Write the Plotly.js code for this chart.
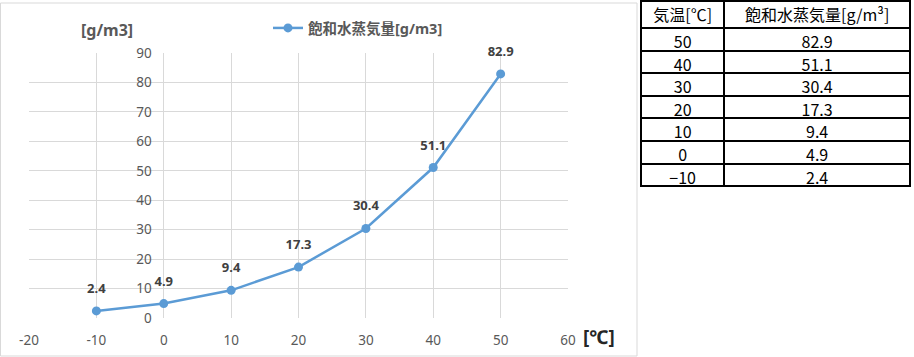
<!DOCTYPE html>
<html><head><meta charset="utf-8">
<script src="https://cdn.plot.ly/plotly-3.0.1.min.js"></script>
<style>html,body{margin:0;padding:0;background:#fff;}#chart{width:914px;height:357px;}</style>
</head><body><div id="chart"></div>
<script>
const temps = [-10, 0, 10, 20, 30, 40, 50];
const vapor = [2.4, 4.9, 9.4, 17.3, 30.4, 51.1, 82.9];
const vaporLabels = ['2.4', '4.9', '9.4', '17.3', '30.4', '51.1', '82.9'];
const seriesName = '飽和水蒸気量[g/m3]';
const tableHeader = ['気温[℃]', '飽和水蒸気量[g/m³]'];
const tableTemps = ['50', '40', '30', '20', '10', '0', '−10'];
const tableVapor = ['82.9', '51.1', '30.4', '17.3', '9.4', '4.9', '2.4'];
const xTicks = [-20, -10, 0, 10, 20, 30, 40, 50, 60];
const yTicks = [0, 10, 20, 30, 40, 50, 60, 70, 80, 90];

const W = 914, H = 357;
const mL = 29, mR = 3, mT = 0, mB = 39;
const pw = W - mL - mR, ph = H - mT - mB;
const px = x => (x - mL) / pw;
const py = y => 1 - (y - mT) / ph;

const baseFont = 'Noto Sans, Noto Sans CJK JP, sans-serif';
const jpFont = 'Noto Sans CJK JP, sans-serif';

const line = {
  type: 'scatter', mode: 'lines+markers',
  x: temps, y: vapor,
  name: seriesName,
  line: {color: '#5b9bd5', width: 2.5},
  marker: {color: '#5b9bd5', size: 9},
  cliponaxis: false,
  xaxis: 'x', yaxis: 'y'
};

const labels = {
  type: 'scatter', mode: 'markers+text',
  x: temps, y: vapor, text: vaporLabels,
  showlegend: false, hoverinfo: 'skip',
  textposition: 'top center',
  textfont: {family: baseFont, size: 13, color: '#404040', weight: 'bold'},
  marker: {color: 'rgba(0,0,0,0)', size: 22},
  cliponaxis: false,
  xaxis: 'x', yaxis: 'y'
};

const table = {
  type: 'table',
  domain: {x: [px(641), px(910)], y: [py(215), py(1)]},
  columnwidth: [83, 185],
  header: {
    values: tableHeader,
    align: 'center', height: 27,
    line: {color: '#000', width: 2},
    fill: {color: '#fff'},
    font: {family: jpFont, size: 16, color: '#000'}
  },
  cells: {
    values: [tableTemps, tableVapor],
    align: 'center', height: 22.6,
    line: {color: '#000', width: 2},
    fill: {color: '#fff'},
    font: {family: jpFont, size: 16, color: '#000'}
  }
};

const layout = {
  width: W, height: H,
  margin: {l: mL, r: mR, t: mT, b: mB, pad: 0},
  paper_bgcolor: '#fff', plot_bgcolor: 'rgba(0,0,0,0)',
  font: {family: baseFont, color: '#595959'},
  showlegend: true,
  legend: {
    orientation: 'h', x: px(268), xanchor: 'left', y: py(28), yanchor: 'middle',
    font: {family: baseFont, size: 14.5, color: '#595959', weight: 'bold'},
    bgcolor: 'rgba(0,0,0,0)'
  },
  xaxis: {
    domain: [0, px(568)],
    range: [-20, 60], tickvals: xTicks, ticktext: xTicks.map(String),
    showgrid: true, gridcolor: '#d9d9d9', gridwidth: 1,
    zeroline: false, showline: false,
    ticks: 'outside', ticklen: 10, tickcolor: 'rgba(0,0,0,0)',
    tickfont: {family: baseFont, size: 13.5, color: '#595959'},
    fixedrange: true
  },
  yaxis: {
    domain: [py(318), py(53)],
    anchor: 'free', position: px(163.5),
    range: [0, 90], tickvals: yTicks, ticktext: yTicks.map(String),
    showgrid: true, gridcolor: '#d9d9d9', gridwidth: 1,
    zeroline: false, showline: false,
    ticks: 'outside', ticklen: 9, tickcolor: 'rgba(0,0,0,0)',
    tickfont: {family: baseFont, size: 13.5, color: '#595959'},
    fixedrange: true
  },
  annotations: [
    {xref: 'paper', yref: 'paper', x: px(107), y: py(30), xanchor: 'center', yanchor: 'middle',
     text: '[g/m3]', showarrow: false, font: {family: baseFont, size: 16, color: '#595959', weight: 'bold'}},
    {xref: 'paper', yref: 'paper', x: px(599), y: py(337), xanchor: 'center', yanchor: 'middle',
     text: '[℃]', showarrow: false, font: {family: baseFont, size: 19, color: '#262626', weight: 'bold'}}
  ],
  shapes: [
    {type: 'rect', xref: 'paper', yref: 'paper', x0: px(0.5), x1: px(637), y0: py(356), y1: py(3),
     line: {color: '#d9d9d9', width: 1}, fillcolor: 'rgba(0,0,0,0)', layer: 'below'}
  ]
};

Plotly.newPlot('chart', [line, labels, table], layout, {displayModeBar: false, staticPlot: true});
</script></body></html>
